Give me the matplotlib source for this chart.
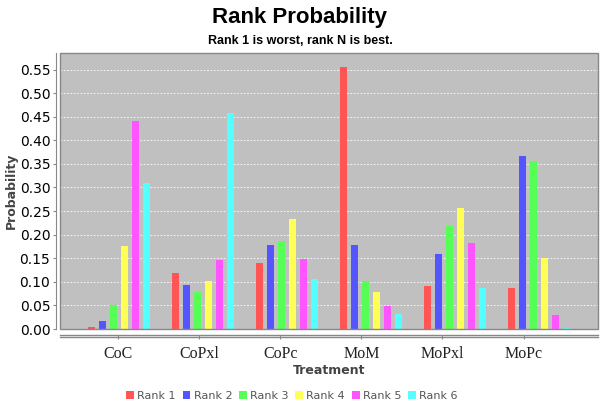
import numpy as np
import matplotlib
matplotlib.use("Agg")
import matplotlib.pyplot as plt
from matplotlib.lines import Line2D
from matplotlib.patches import Rectangle

treatments = ["CoC", "CoPxl", "CoPc", "MoM", "MoPxl", "MoPc"]
ranks = ["Rank 1", "Rank 2", "Rank 3", "Rank 4", "Rank 5", "Rank 6"]

rank1 = [0.004, 0.118, 0.140, 0.556, 0.092, 0.086]
rank2 = [0.016, 0.094, 0.179, 0.178, 0.159, 0.367]
rank3 = [0.051, 0.078, 0.187, 0.102, 0.218, 0.357]
rank4 = [0.176, 0.102, 0.233, 0.078, 0.257, 0.150]
rank5 = [0.440, 0.146, 0.149, 0.048, 0.183, 0.030]
rank6 = [0.310, 0.457, 0.107, 0.032, 0.086, 0.002]
series = [rank1, rank2, rank3, rank4, rank5, rank6]

colors = ["#FF5555", "#5555FF", "#55FF55", "#FFFF55", "#FF55FF", "#55FFFF"]
y_ticks = np.arange(0, 0.56, 0.05)

fig = plt.figure(figsize=(6, 4.07), dpi=100)
ax = fig.add_axes([0.1, 0.1916, 0.8967, 0.6782])
ax.set_facecolor("#C0C0C0")

x = np.arange(len(treatments))
step = 0.131
width = 0.089
for i, (vals, name) in enumerate(zip(series, ranks)):
    ax.bar(x + (i - 2.5) * step, vals, width, color=colors[i], label=name, zorder=3)

ax.set_xlim(-0.702, 5.702)
ax.set_ylim(0, 0.585)
ax.set_yticks(y_ticks)
ax.set_yticklabels([f"{v:.2f}" for v in y_ticks], fontsize=8, color="#555555")
ax.yaxis.grid(True, color="white", linestyle=(0, (2, 2)), linewidth=0.6, zorder=1)

# category ticks in the reference sit a little off the group centres
ax.set_xticks(x * 0.965 - 0.01)
ax.set_xticklabels(treatments)
ax.tick_params(axis="x", length=3, color="#888888", pad=5, labelsize=11.5,
               labelcolor="#222222", labelfontfamily="Liberation Serif")
ax.tick_params(axis="y", length=2, color="#888888", pad=2)

for s in ["top", "right"]:
    ax.spines[s].set_visible(False)
ax.spines["left"].set_position(("outward", 3))
ax.spines["left"].set_color("#888888")
ax.spines["bottom"].set_position(("outward", 4))
ax.spines["bottom"].set_color("#888888")
ax.spines["bottom"].set_linewidth(1.0)
ax.add_patch(Rectangle((0, 0), 1, 1, transform=ax.transAxes, fill=False,
                       edgecolor="#888888", linewidth=1.0, zorder=4, clip_on=False))
fig.add_artist(Line2D([0.1, 0.9967], [1 - 336.5 / 407, 1 - 336.5 / 407],
                      color="#888888", linewidth=1.0))

ax.set_ylabel("Probability", fontsize=9, fontweight="bold", color="#444444", labelpad=1)
ax.set_xlabel("Treatment", fontsize=9, fontweight="bold", color="#444444", labelpad=2)

fig.text(0.5, 1 - 18 / 407, "Rank Probability", ha="center", va="center",
         family="Liberation Sans", fontsize=16, fontweight="bold")
fig.text(0.5, 1 - 41 / 407, "Rank 1 is worst, rank N is best.", ha="center", va="center",
         family="Liberation Sans", fontsize=9, fontweight="bold")

leg = fig.legend(loc="center", bbox_to_anchor=(292 / 600, 1 - 396 / 407), ncol=6,
                 frameon=False, fontsize=8, handlelength=0.7, handleheight=0.7,
                 handletextpad=0.3, columnspacing=0.6, borderpad=0)
for t in leg.get_texts():
    t.set_color("#555555")

fig.savefig("out.png", dpi=100)
